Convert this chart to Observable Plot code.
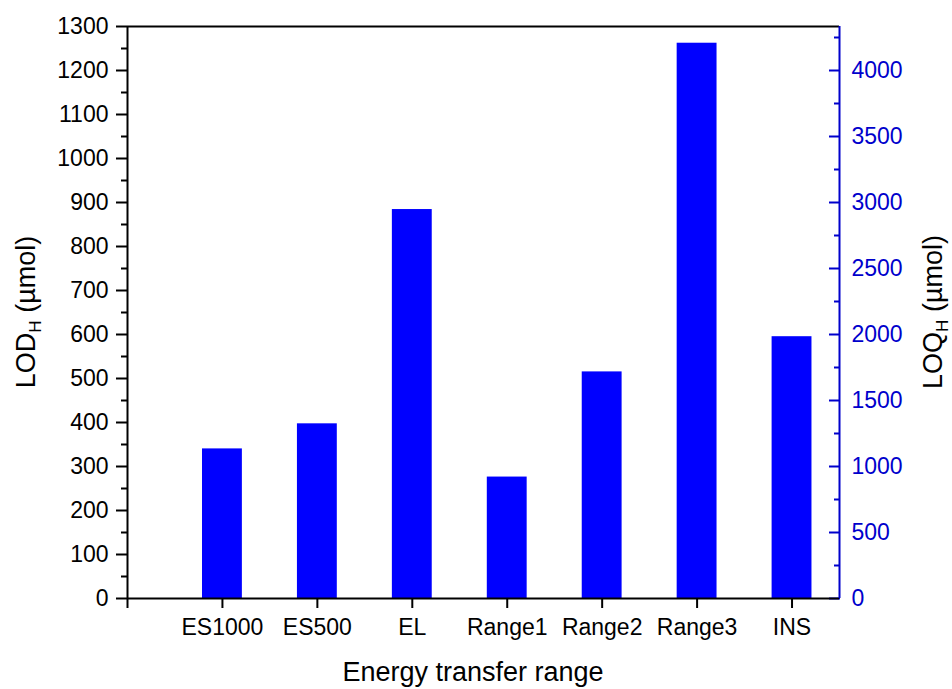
<!DOCTYPE html>
<html><head><meta charset="utf-8">
<script src="https://cdn.jsdelivr.net/npm/d3@7"></script>
<script src="https://cdn.jsdelivr.net/npm/@observablehq/plot@0.6"></script>
<style>html,body{margin:0;padding:0;background:#fff} svg{display:block}</style>
</head><body><div id="chart"></div>
<script>
const categories = ["ES1000", "ES500", "EL", "Range1", "Range2", "Range3", "INS"];
const lodValues = [340, 397, 884, 276, 515, 1262, 595];
const lodTicks = d3.range(0, 1301, 100);
const lodMinorTicks = d3.range(50, 1300, 100);
const loqTicks = d3.range(0, 4001, 500);
const loqMinorTicks = d3.range(250, 4300, 500);
const loqPerLod = 10 / 3;

const data = categories.map((c, i) => ({pos: i + 1, name: c, lod: lodValues[i]}));
const halfBar = 0.21;
const font = "'Liberation Sans', Arial, sans-serif";
const barBlue = "#0000FF";
const axisBlue = "#0000CC";

const svg = Plot.plot({
  width: 952, height: 689,
  marginLeft: 127, marginRight: 113, marginTop: 26, marginBottom: 91,
  style: {fontFamily: font, fontSize: "23px", background: "#fff", overflow: "visible"},
  x: {type: "linear", domain: [0, 7.5], axis: null},
  y: {domain: [0, 1300], axis: null},
  marks: [
    Plot.rectY(data, {x1: d => d.pos - halfBar, x2: d => d.pos + halfBar, y1: 0, y2: "lod", fill: barBlue}),
    Plot.axisX({ticks: d3.range(0, 8), tickFormat: i => i === 0 ? "" : categories[i - 1], tickSize: 10, tickPadding: 10, strokeWidth: 2, label: null, fill: "#000"}),
    Plot.axisY({ticks: lodTicks, tickSize: 11, tickPadding: 8, strokeWidth: 2, label: null, tickFormat: d3.format("d"), fill: "#000"}),
    Plot.axisY({ticks: lodMinorTicks, tickSize: 6, strokeWidth: 2, tickFormat: () => "", label: null}),
    Plot.axisY({anchor: "right", ticks: loqTicks.map(v => v / loqPerLod), tickSize: -11, tickPadding: 23, strokeWidth: 2, stroke: axisBlue, fill: axisBlue, tickFormat: d => String(Math.round(d * loqPerLod)), label: null}),
    Plot.axisY({anchor: "right", ticks: loqMinorTicks.map(v => v / loqPerLod), tickSize: -6, tickPadding: 23, strokeWidth: 2, stroke: axisBlue, tickFormat: () => "", label: null}),
    Plot.ruleY([0], {stroke: "#000", strokeWidth: 2}),
    Plot.ruleY([1300], {stroke: "#000", strokeWidth: 2}),
    Plot.ruleX([0], {stroke: "#000", strokeWidth: 2}),
    Plot.ruleX([7.5], {stroke: axisBlue, strokeWidth: 2})
  ]
});

const s = d3.select(svg);
function addTitle(x, y, rotate, main, sub, rest) {
  const t = s.append("text")
    .attr("transform", `translate(${x},${y})` + (rotate ? ` rotate(${rotate})` : ""))
    .attr("text-anchor", "middle")
    .attr("font-family", font)
    .attr("font-size", 27)
    .attr("fill", "#000");
  t.append("tspan").text(main);
  if (sub) {
    t.append("tspan").attr("font-size", 17).attr("dy", 6).text(sub);
    t.append("tspan").attr("dy", -6).text(rest);
  }
  return t;
}
addTitle(473, 681, 0, "Energy transfer range");
addTitle(35, 312, -90, "LOD", "H", " (\u00b5mol)");
addTitle(942, 312, -90, "LOQ", "H", " (\u00b5mol)");

document.getElementById("chart").appendChild(svg);
</script>
</body></html>
